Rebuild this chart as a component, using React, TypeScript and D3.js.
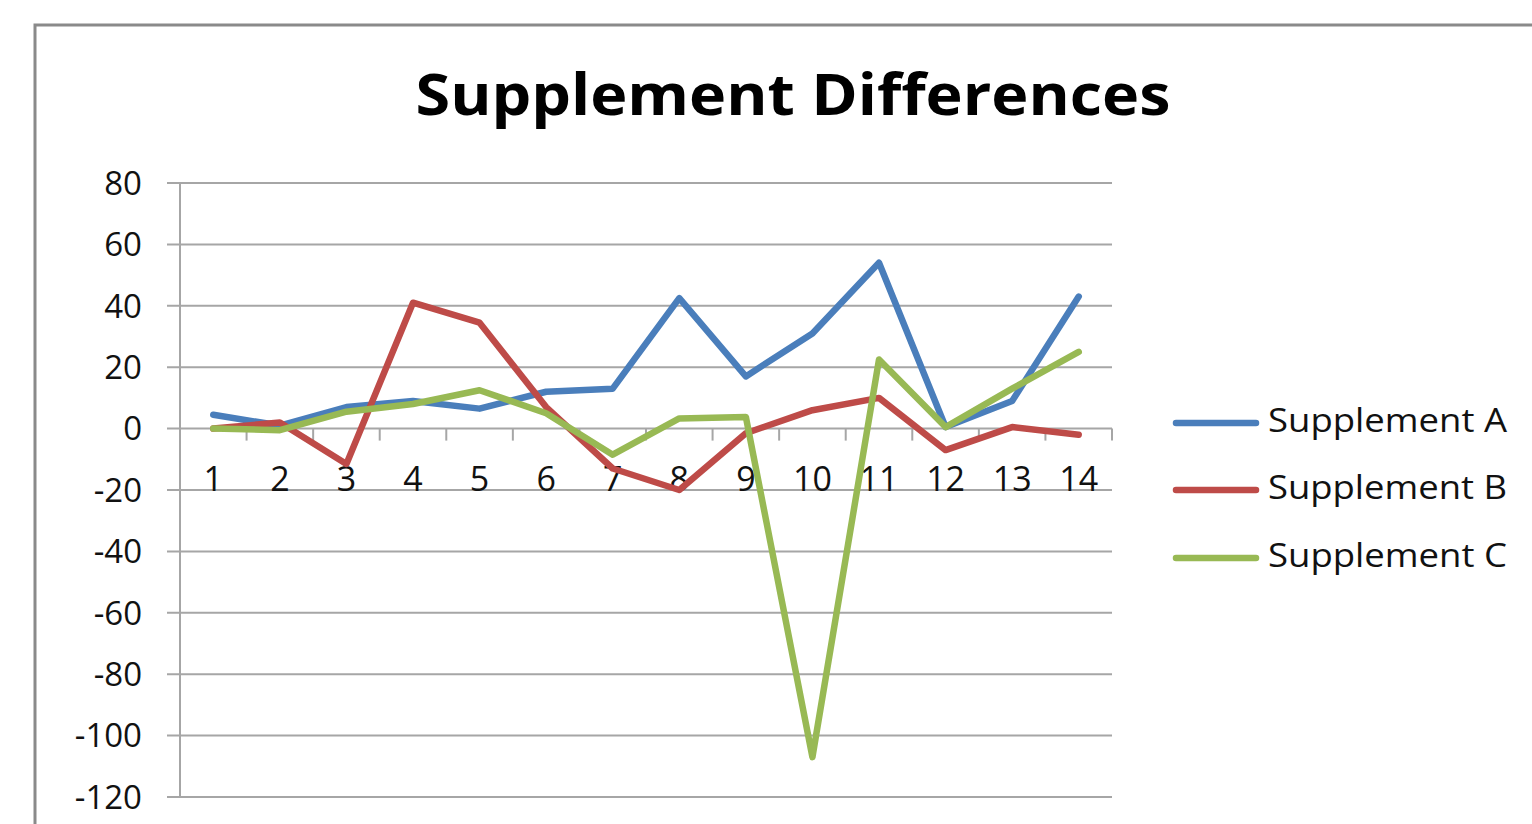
import * as d3 from 'd3';
import React, { FC, useEffect, useRef } from 'react';

const categories = ['1', '2', '3', '4', '5', '6', '7', '8', '9', '10', '11', '12', '13', '14'];
const supplementA = [4.5, 1, 7, 9, 6.5, 12, 13, 42.5, 17, 31, 54, 0.5, 9, 43];
const supplementB = [0, 2, -11.5, 41, 34.5, 7, -13, -20, -1.5, 6, 10, -7, 0.5, -2];
const supplementC = [0, -0.5, 5.5, 8, 12.5, 5, -8.5, 3.3, 3.8, -107, 22.5, 0.5, 13, 25];
const seriesNames = ['Supplement A', 'Supplement B', 'Supplement C'];
const yTicks = [80, 60, 40, 20, 0, -20, -40, -60, -80, -100, -120];

const colors = ['#4a7ebb', '#be4b48', '#98b954'];
const font = '"Open Sans", sans-serif';

const App: FC = (): JSX.Element => {
  const ref = useRef<SVGSVGElement>(null);

  useEffect(() => {
    const width = 1532;
    const height = 824;
    const svg = d3.select(ref.current).attr('width', width).attr('height', height);
    svg.selectAll('*').remove();

    const left = 180;
    const right = 1112;
    const top = 183;
    const bottom = 797;

    // outer chart border, runs off the right and bottom edges
    svg
      .append('rect')
      .attr('x', 35)
      .attr('y', 25)
      .attr('width', 1700)
      .attr('height', 1000)
      .attr('fill', 'white')
      .attr('stroke', '#8a8a8a')
      .attr('stroke-width', 3);

    svg
      .append('text')
      .attr('x', 793)
      .attr('y', 115)
      .attr('text-anchor', 'middle')
      .attr('font-family', font)
      .attr('font-weight', 'bold')
      .attr('font-size', 58)
      .attr('textLength', 755)
      .attr('lengthAdjust', 'spacingAndGlyphs')
      .text('Supplement Differences');

    const x = d3.scaleBand<string>().domain(categories).range([left, right]).padding(0);
    const y = d3.scaleLinear().domain([-120, 80]).range([bottom, top]);

    const grid = svg.append('g');
    yTicks.forEach((t) => {
      grid
        .append('line')
        .attr('x1', left - 13)
        .attr('x2', right)
        .attr('y1', y(t))
        .attr('y2', y(t))
        .attr('stroke', '#a6a6a6')
        .attr('stroke-width', 2);
      grid
        .append('text')
        .attr('x', 142)
        .attr('y', y(t))
        .attr('dy', '0.36em')
        .attr('text-anchor', 'end')
        .attr('font-family', font)
        .attr('font-size', 33)
        .attr('fill', '#111')
        .text(t);
    });

    grid
      .append('line')
      .attr('x1', left)
      .attr('x2', left)
      .attr('y1', top)
      .attr('y2', bottom)
      .attr('stroke', '#a6a6a6')
      .attr('stroke-width', 2);

    // category axis on the zero line, ticks between categories
    const y0 = y(0);
    categories.forEach((c) => {
      const bx = (x(c) as number) + x.bandwidth();
      grid
        .append('line')
        .attr('x1', bx)
        .attr('x2', bx)
        .attr('y1', y0)
        .attr('y2', y0 + 12)
        .attr('stroke', '#a6a6a6')
        .attr('stroke-width', 2);
      svg
        .append('text')
        .attr('x', (x(c) as number) + x.bandwidth() / 2)
        .attr('y', 491)
        .attr('text-anchor', 'middle')
        .attr('font-family', font)
        .attr('font-size', 34)
        .attr('fill', '#111')
        .text(c);
    });

    const series = [supplementA, supplementB, supplementC];
    const line = d3
      .line<number>()
      .x((_, i) => (x(categories[i]) as number) + x.bandwidth() / 2)
      .y((d) => y(d));

    series.forEach((s, i) => {
      svg
        .append('path')
        .attr('d', line(s))
        .attr('fill', 'none')
        .attr('stroke', colors[i])
        .attr('stroke-width', 6.5)
        .attr('stroke-linejoin', 'round')
        .attr('stroke-linecap', 'round');
    });

    const legendY = [423, 490, 558];
    seriesNames.forEach((name, i) => {
      svg
        .append('line')
        .attr('x1', 1176)
        .attr('x2', 1256)
        .attr('y1', legendY[i])
        .attr('y2', legendY[i])
        .attr('stroke', colors[i])
        .attr('stroke-width', 6.5)
        .attr('stroke-linecap', 'round');
      svg
        .append('text')
        .attr('x', 1268)
        .attr('y', legendY[i] + 9)
        .attr('font-family', font)
        .attr('font-size', 33)
        .attr('fill', '#111')
        .attr('textLength', 239)
        .attr('lengthAdjust', 'spacingAndGlyphs')
        .text(name);
    });
  }, []);

  return <svg ref={ref} style={{ position: 'absolute', left: 0, top: 0 }} />;
};

export default App;
